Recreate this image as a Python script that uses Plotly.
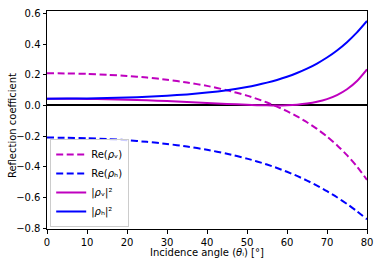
import plotly.graph_objects as go

angles = [0, 5, 10, 15, 20, 25, 30, 35, 40, 45, 50, 52.5, 55, 57.5, 60, 62.5, 65, 67.5, 70, 72.5, 75, 77.5, 80]
re_rho_v = [0.2095, 0.2084, 0.2053, 0.1998, 0.1919, 0.1813, 0.1674, 0.1496, 0.1272, 0.0991, 0.0637,
            0.0427, 0.0191, -0.0074, -0.0374, -0.0712, -0.1095, -0.1530, -0.2026, -0.2591, -0.3240, -0.3985, -0.4846]
re_rho_h = [-0.2095, -0.2105, -0.2137, -0.2191, -0.2269, -0.2374, -0.2508, -0.2678, -0.2889, -0.3148, -0.3465,
            -0.3649, -0.3852, -0.4076, -0.4322, -0.4594, -0.4894, -0.5223, -0.5585, -0.5983, -0.6419, -0.6896, -0.7417]
abs_rho_v_sq = [0.0439, 0.0434, 0.0421, 0.0399, 0.0368, 0.0329, 0.0280, 0.0224, 0.0162, 0.0098, 0.0041,
                0.0018, 0.0004, 0.0001, 0.0014, 0.0051, 0.0120, 0.0234, 0.0410, 0.0671, 0.1050, 0.1588, 0.2348]
abs_rho_h_sq = [0.0439, 0.0443, 0.0457, 0.0480, 0.0515, 0.0564, 0.0629, 0.0717, 0.0835, 0.0991, 0.1201,
                0.1332, 0.1484, 0.1661, 0.1868, 0.2110, 0.2395, 0.2728, 0.3119, 0.3580, 0.4120, 0.4755, 0.5501]

names = ["Re(<i>ρ</i>ᵥ)", "Re(<i>ρ</i>ₕ)", "|<i>ρ</i>ᵥ|²", "|<i>ρ</i>ₕ|²"]
series = [re_rho_v, re_rho_h, abs_rho_v_sq, abs_rho_h_sq]
colors = ["#BF00BF", "#0000FF", "#BF00BF", "#0000FF"]
dashes = ["7px,3.5px", "7px,3.5px", "solid", "solid"]

fig = go.Figure()
for nm, ys, c, d in zip(names, series, colors, dashes):
    fig.add_trace(go.Scatter(x=angles, y=ys, mode="lines", name=nm,
                             line=dict(color=c, width=2, dash=d, shape="spline", smoothing=0.6)))

fig.update_layout(
    width=382, height=259,
    margin=dict(l=47, r=15, t=11, b=30, autoexpand=False),
    paper_bgcolor="white", plot_bgcolor="white",
    font=dict(family="DejaVu Sans", size=10, color="black"),
    showlegend=True,
    legend=dict(x=0.01, y=0.009, xanchor="left", yanchor="bottom",
                bgcolor="rgba(255,255,255,0.8)", bordercolor="#cccccc", borderwidth=1,
                font=dict(size=10), tracegroupgap=0, itemwidth=30),
    annotations=[
        dict(text="Reflection coefficient", xref="paper", yref="paper",
             x=-35 / 320, y=0.472, xanchor="center", yanchor="middle",
             textangle=-90, showarrow=False, font=dict(size=10)),
        dict(text="Incidence angle (<i>θ</i>ᵢ) [°]", xref="paper", yref="paper",
             x=0.5, y=-23.5 / 218, xanchor="center", yanchor="middle",
             showarrow=False, font=dict(size=10)),
    ],
)
fig.update_xaxes(range=[0, 80], tickvals=[0, 10, 20, 30, 40, 50, 60, 70, 80],
                 automargin=False,
                 showgrid=False, zeroline=False, showline=True, linecolor="black", linewidth=1, mirror=True,
                 ticks="outside", ticklen=3.5, tickcolor="black")
fig.update_yaxes(range=[-0.805, 0.615], tickvals=[-0.8, -0.6, -0.4, -0.2, 0.0, 0.2, 0.4, 0.6],
                 ticktext=["−0.8", "−0.6", "−0.4", "−0.2", "0.0", "0.2", "0.4", "0.6"],
                 automargin=False,
                 showgrid=False, zeroline=True, zerolinecolor="black", zerolinewidth=1.5,
                 showline=True, linecolor="black", linewidth=1, mirror=True,
                 ticks="outside", ticklen=3.5, tickcolor="black")

fig.write_html("out.html", config={"displayModeBar": False},
               post_script="document.body.style.margin='0px';document.body.style.overflow='hidden';")
